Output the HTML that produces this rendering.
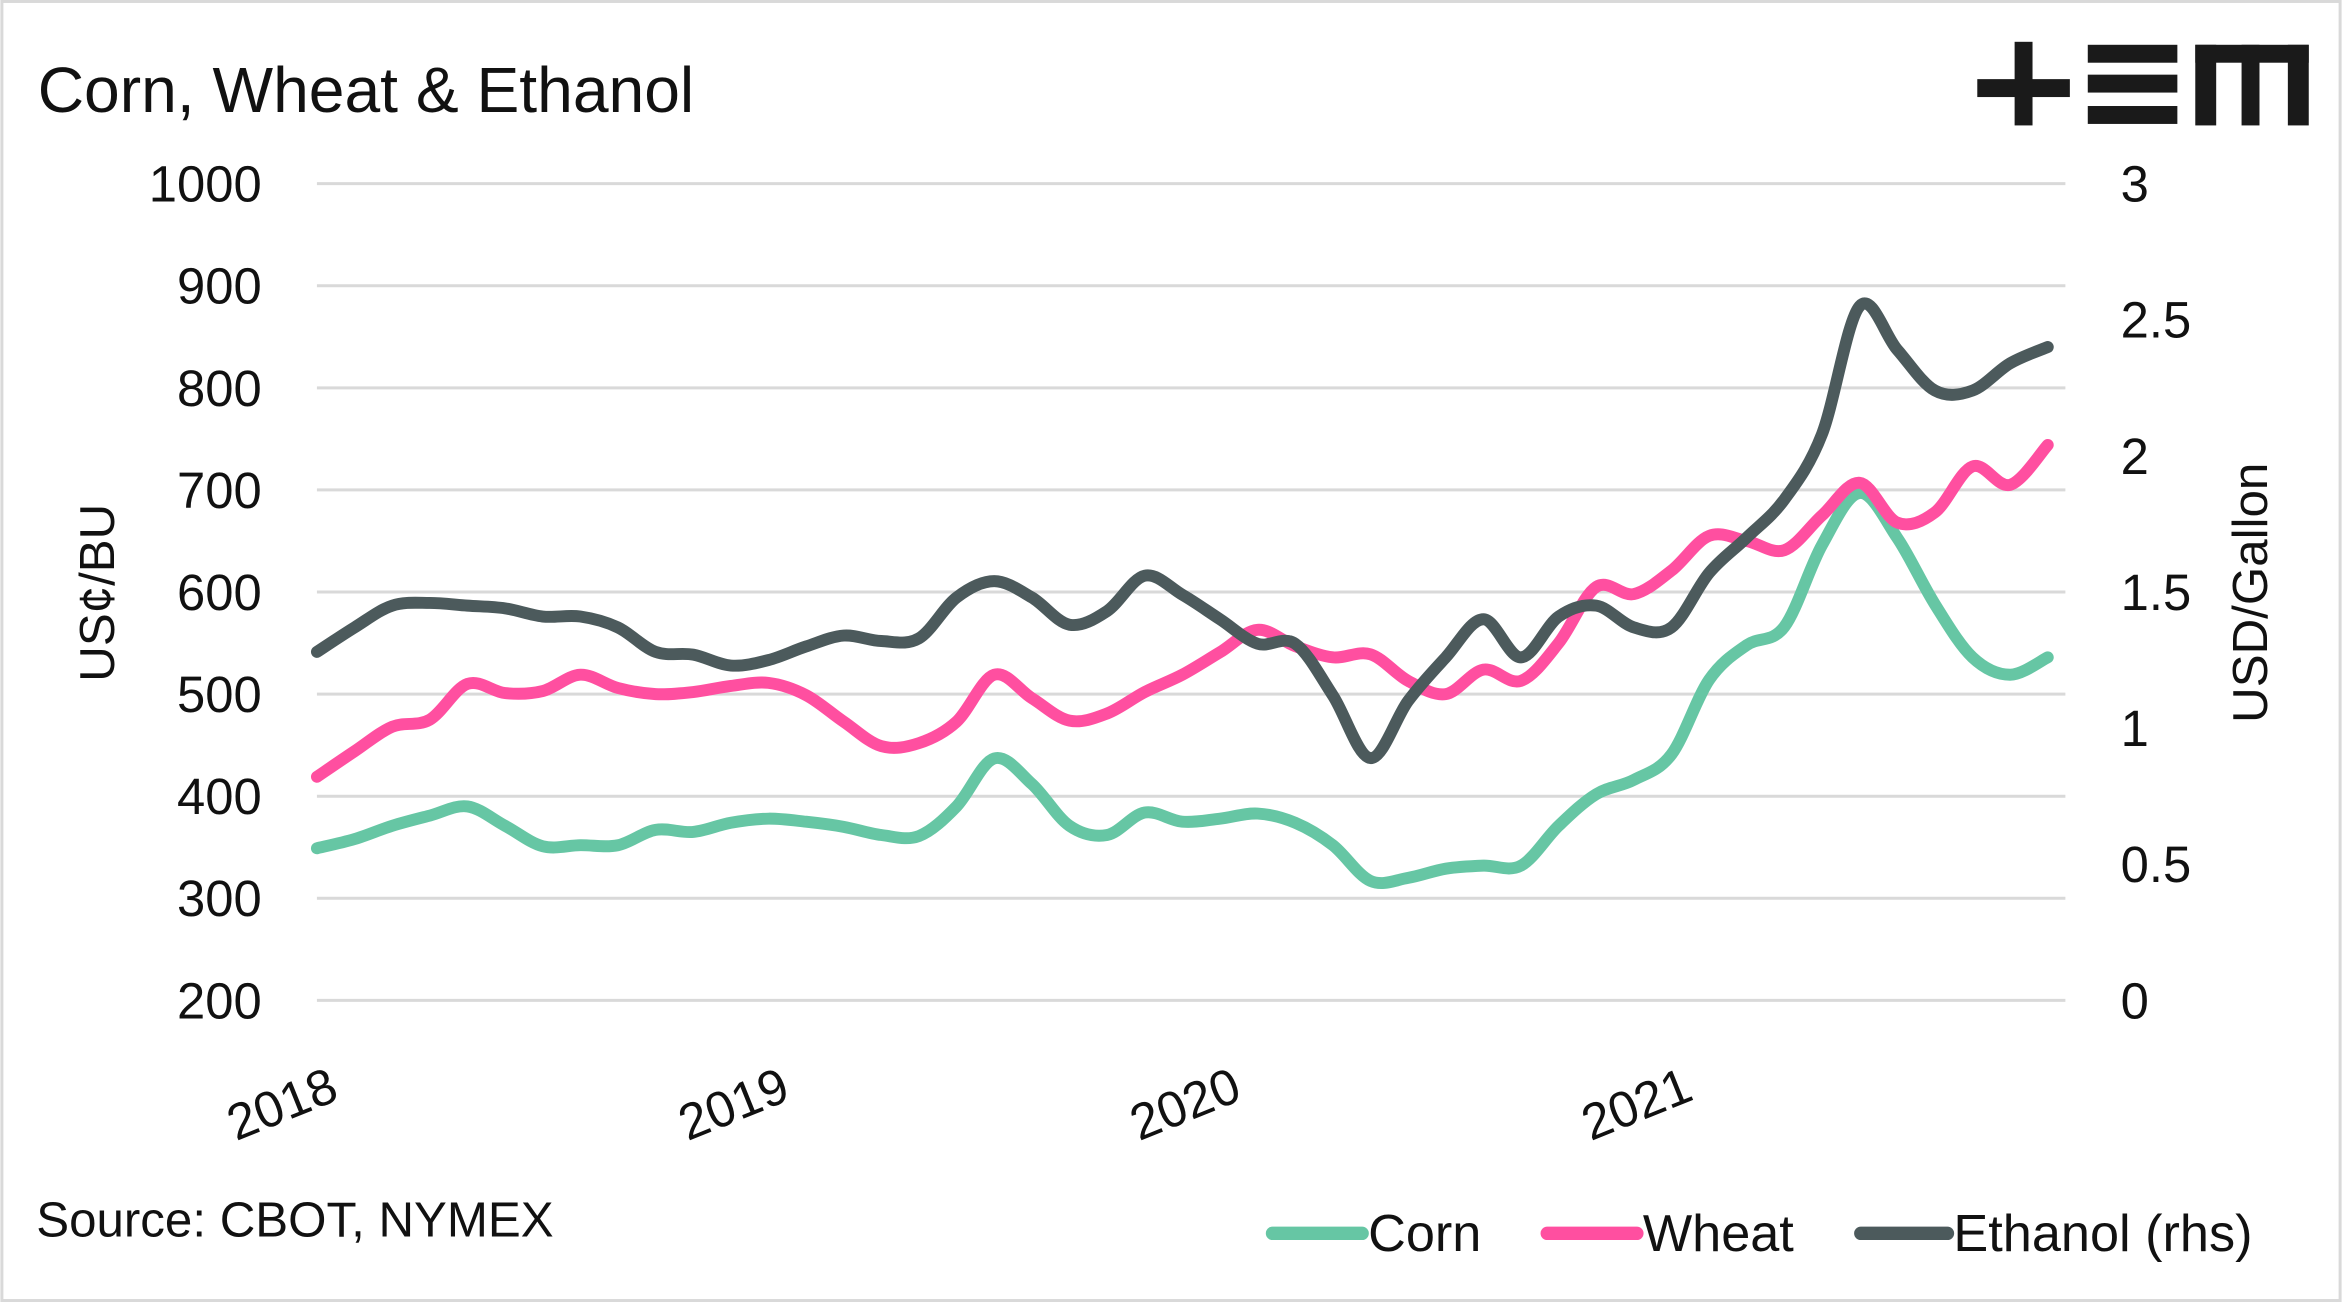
<!DOCTYPE html>
<html><head><meta charset="utf-8"><style>
html,body{margin:0;padding:0;background:#fff}
svg{display:block}
text{font-family:"Liberation Sans",sans-serif;fill:#111}
</style></head><body>
<svg id="chart" width="2342" height="1302" viewBox="0 0 1568 872" xmlns="http://www.w3.org/2000/svg">
<rect x="1" y="1" width="1566" height="870" fill="#fff" stroke="#d9d9d9" stroke-width="2"/>
<text x="25" y="75" font-size="43">Corn, Wheat &amp; Ethanol</text>
<g fill="#1a1a1a">
<rect x="1324" y="53" width="62" height="12"/><rect x="1349" y="28" width="12" height="56"/>
<rect x="1398" y="30" width="60" height="12"/><rect x="1398" y="50" width="60" height="12"/><rect x="1398" y="71" width="60" height="12"/>
<rect x="1470" y="30" width="76" height="12"/><rect x="1470" y="30" width="14" height="54"/><rect x="1501" y="30" width="12" height="54"/><rect x="1532" y="30" width="14" height="54"/>
</g>
<g id="grid"></g>
<g id="yl"></g>
<g id="yr"></g>
<g id="xl"></g>
<text transform="translate(76,397) rotate(-90)" text-anchor="middle" font-size="33">US¢/BU</text>
<text transform="translate(1518,397) rotate(-90)" text-anchor="middle" font-size="33">USD/Gallon</text>
<g id="series"></g>
<text x="24" y="828" font-size="33">Source: CBOT, NYMEX</text>
<g>
<g><line x1="852" y1="826" x2="912" y2="826" stroke="#66c6a4" stroke-width="9" stroke-linecap="round"/><text x="916" y="838" font-size="35">Corn</text></g>
<g><line x1="1036" y1="826" x2="1096" y2="826" stroke="#ff4fa0" stroke-width="9" stroke-linecap="round"/><text x="1100" y="838" font-size="35">Wheat</text></g>
<g><line x1="1246" y1="826" x2="1304" y2="826" stroke="#4c5a5c" stroke-width="9" stroke-linecap="round"/><text x="1308" y="838" font-size="35">Ethanol (rhs)</text></g>
</g>
</svg>
<script>
const leftTicks=[200,300,400,500,600,700,800,900,1000];
const rightTicks=["0","0.5","1","1.5","2","2.5","3"];
const yearLabels=["2018","2019","2020","2021"];
const corn=[349,358,371,381,390,371,351,352,352,367,365,374,378,375,370,362,361,390,437,412,371,362,384,375,378,383,374,352,317,320,329,332,332,371,402,416,441,514,548,566,646,697,653,588,536,519,536];
const wheat=[419,444,468,475,510,501,503,519,506,500,502,508,511,499,473,449,452,473,519,496,474,481,502,519,541,563,547,536,539,513,500,524,513,550,605,598,621,655,650,641,675,707,668,678,723,705,744];
const ethanol=[1.28,1.37,1.45,1.46,1.45,1.44,1.41,1.41,1.37,1.28,1.27,1.23,1.25,1.30,1.34,1.32,1.33,1.48,1.54,1.48,1.38,1.43,1.56,1.49,1.40,1.31,1.31,1.12,0.89,1.10,1.26,1.40,1.26,1.41,1.45,1.37,1.37,1.57,1.70,1.84,2.08,2.55,2.39,2.24,2.24,2.34,2.40];

const NS="http://www.w3.org/2000/svg";
const X0=212,X1=1383,Y0=670,Y1=123,MONTH=25.2;
const yL=v=>Y0-(v-200)/800*(Y0-Y1);
const yR=v=>Y0-v/3*(Y0-Y1);
const xM=i=>X0+i*MONTH;
function mk(tag,attrs,parent){const e=document.createElementNS(NS,tag);for(const k in attrs)e.setAttribute(k,attrs[k]);parent.appendChild(e);return e;}
const grid=document.getElementById('grid'),yl=document.getElementById('yl'),yr=document.getElementById('yr'),xl=document.getElementById('xl'),ser=document.getElementById('series');
leftTicks.forEach(v=>{
  const l=mk('line',{x1:X0,x2:X1,y1:yL(v),y2:yL(v),stroke:'#d9d9d9','stroke-width':2},grid);
  
  
  const t=mk('text',{x:175,y:yL(v)+12,'text-anchor':'end','font-size':34},yl);t.textContent=v;
  
  
});
rightTicks.forEach(s=>{
  const t=mk('text',{x:1420,y:yR(parseFloat(s))+12,'font-size':34},yr);t.textContent=s;
  
  
});
yearLabels.forEach((s,i)=>{
  const x=X0+i*12*MONTH+16;
  const t=mk('text',{transform:`translate(${x},736) rotate(-22)`,'text-anchor':'end','font-size':34},xl);t.textContent=s;
  
  
});
function smooth(pts){let d=`M${pts[0][0]},${pts[0][1]}`;for(let i=0;i<pts.length-1;i++){const p0=pts[i-1]||pts[i],p1=pts[i],p2=pts[i+1],p3=pts[i+2]||p2;
 d+=` C${p1[0]+(p2[0]-p0[0])/6},${p1[1]+(p2[1]-p0[1])/6} ${p2[0]-(p3[0]-p1[0])/6},${p2[1]-(p3[1]-p1[1])/6} ${p2[0]},${p2[1]}`;}return d;}
function line(vals,yf,color,name){
  const p=mk('path',{d:smooth(vals.map((v,i)=>[xM(i),yf(v)])),fill:'none',stroke:color,'stroke-width':8,'stroke-linejoin':'round','stroke-linecap':'round'},ser);
  
  
}
line(corn,yL,'#66c6a4','corn-line');
line(wheat,yL,'#ff4fa0','wheat-line');
line(ethanol,yR,'#4c5a5c','ethanol-line');
</script>
</body></html>
